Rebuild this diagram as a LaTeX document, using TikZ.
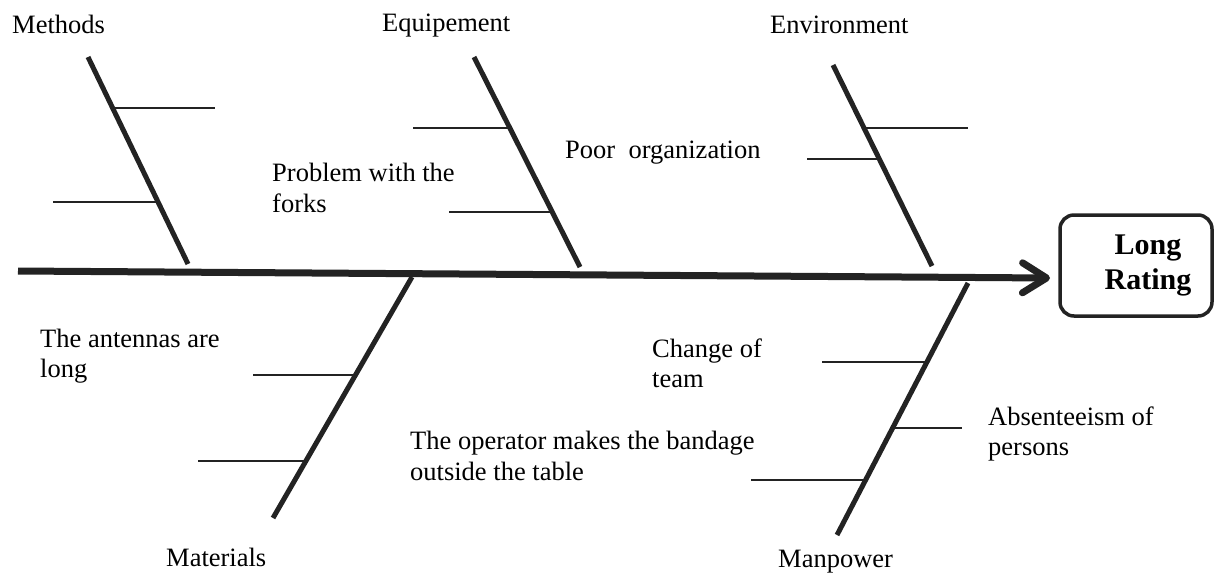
\documentclass[tikz,border=0pt]{standalone}
\usepackage{fontspec}
\setmainfont{Liberation Serif}
\usetikzlibrary{calc, arrows.meta}

\definecolor{ink}{HTML}{232323}

\begin{document}
\begin{tikzpicture}[x = 1pt, y = -1pt,
	every node/.style = {inner sep = 0pt, font = \fontsize{26.5}{30.5}\selectfont},
	cause/.style = {anchor = base west},
	note/.style = {anchor = west, align = left},
	bone/.style = {draw = ink, line width = 5pt},
	twig/.style = {draw = ink, line width = 2pt}]
	\useasboundingbox (0, 0) rectangle (1216, 574);

	% head of the fish
	\node [draw = ink, line width = 3.5pt, rounded corners = 14pt, minimum width = 152pt, minimum height = 101pt, align = center, font = \fontsize{30}{35}\selectfont\bfseries] (effect) at (1136, 265.5) {\hspace*{24pt}Long\\\hspace*{24pt}Rating};

	% spine
	\coordinate (tail) at (18, 271);
	\coordinate (head) at (1050, 278);
	\draw [ink, line width = 7pt, -{Straight Barb[length = 24pt, width = 30pt, round]}] (tail) -- (head);

	% upper bones
	\draw [bone] (88, 57) coordinate (mt) -- (188, 264) coordinate (mb);
	\draw [bone] (474, 57) coordinate (et) -- (580, 267) coordinate (eb);
	\draw [bone] (833, 65) coordinate (nt) -- (932, 266) coordinate (nb);
	% lower bones
	\draw [bone] (412, 277) coordinate (at) -- (273, 518) coordinate (ab);
	\draw [bone] (968, 283) coordinate (pt) -- (837, 535) coordinate (pb);

	% twigs
	\path [twig]
		($(mt)!.246!(mb)$) edge ++(102, 0)
		($(mt)!.70!(mb)$) edge ++(-105, 0)
		($(et)!.338!(eb)$) edge ++(-97, 0)
		($(et)!.738!(eb)$) edge ++(-103, 0)
		($(nt)!.313!(nb)$) edge ++(104, 0)
		($(nt)!.468!(nb)$) edge ++(-72, 0)
		($(at)!.407!(ab)$) edge ++(-102, 0)
		($(at)!.763!(ab)$) edge ++(-108, 0)
		($(pt)!.313!(pb)$) edge ++(-105, 0)
		($(pt)!.575!(pb)$) edge ++(69, 0)
		($(pt)!.782!(pb)$) edge ++(-115, 0);

	% categories
	\node [cause] (methods) at (12, 33) {Methods};
	\node [cause] (equipement) at (382, 31) {Equipement};
	\node [cause] (environment) at (770, 33) {Environment};
	\node [cause] (materials) at (166, 566) {Materials};
	\node [cause] (manpower) at (778, 567) {Manpower};

	% causes
	\node [note] (forks) at (272, 188) {Problem with the\\forks};
	\node [cause] (organization) at (565, 158) {Poor\ \ organization};
	\node [note] (antennas) at (40, 356) {The antennas are\\long};
	\node [note] (team) at (652, 363.5) {Change of\\team};
	\node [note] (absence) at (988, 434) {Absenteeism of\\persons};
	\node [note] (bandage) at (410, 456) {The operator makes the bandage\\outside the table};
\end{tikzpicture}
\end{document}
